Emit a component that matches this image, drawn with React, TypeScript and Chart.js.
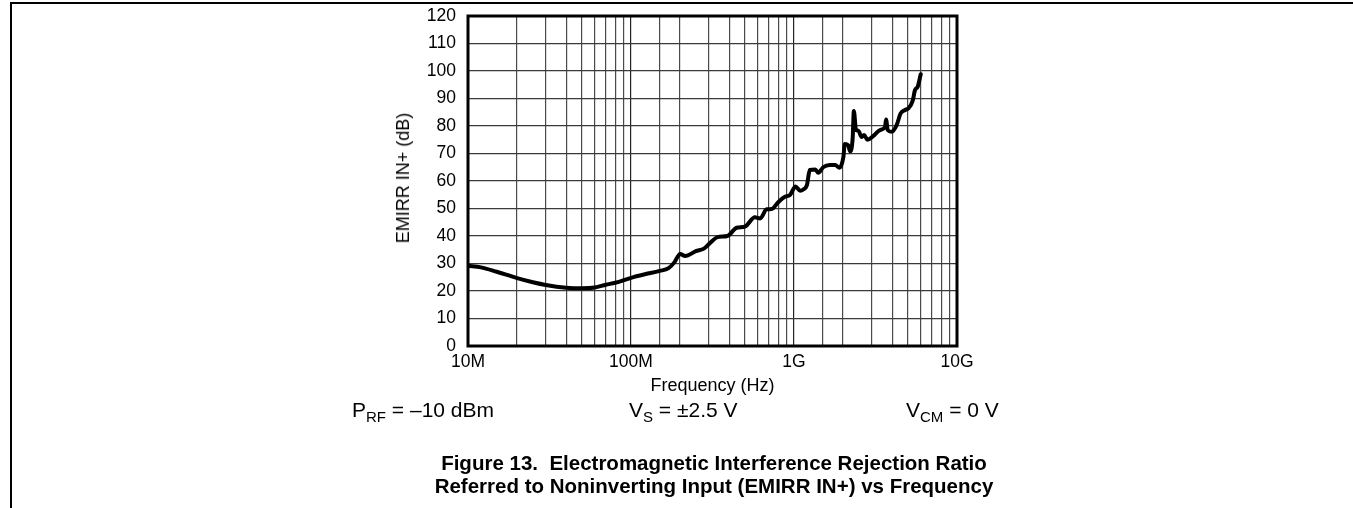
import React, { useEffect, useRef } from "react";
import { Chart, registerables } from "chart.js";

Chart.register(...registerables);

// Frequency (Hz) and EMIRR IN+ (dB)
const FREQ_HZ = [
  1.0e7, 1.2e7, 1.5e7, 2.0e7, 2.5e7, 3.0e7, 4.0e7, 5.0e7, 6.0e7, 7.0e7, 8.0e7,
  1.0e8, 1.2e8, 1.5e8, 1.7e8, 1.85e8, 2.0e8, 2.15e8, 2.5e8, 2.8e8, 3.05e8,
  3.4e8, 3.9e8, 4.45e8, 5.0e8, 5.75e8, 6.2e8, 6.8e8, 7.3e8, 8.0e8, 8.8e8,
  9.45e8, 1.02e9, 1.09e9, 1.14e9, 1.2e9, 1.25e9, 1.35e9, 1.41e9, 1.51e9,
  1.66e9, 1.79e9, 1.9e9, 2.01e9, 2.05e9, 2.15e9, 2.21e9, 2.29e9, 2.33e9,
  2.4e9, 2.48e9, 2.6e9, 2.69e9, 2.82e9, 3.07e9, 3.37e9, 3.62e9, 3.67e9,
  3.76e9, 3.97e9, 4.27e9, 4.51e9, 4.8e9, 5.03e9, 5.35e9, 5.52e9, 5.74e9,
  5.99e9,
];
const EMIRR_DB = [
  29.2, 28.6, 27.0, 24.7, 23.2, 22.2, 21.2, 21.0, 21.3, 22.3, 23.0,
  24.8, 26.0, 27.3, 28.3, 30.5, 33.5, 32.7, 34.5, 35.4, 37.4,
  39.6, 40.0, 43.0, 43.4, 46.8, 46.4, 49.7, 49.8, 52.3, 54.3,
  54.9, 58.0, 56.5, 56.9, 58.5, 64.0, 64.2, 63.0, 65.0,
  65.8, 65.8, 64.8, 68.8, 73.5, 73.0, 70.8, 75.5, 85.5,
  78.5, 78.3, 76.0, 76.7, 75.0, 76.4, 78.5, 79.7, 82.4,
  78.5, 77.9, 80.4, 84.6, 85.8, 86.4, 89.2, 93.0, 94.3,
  98.8,
];

const X_TICK_VALUES = [1e7, 1e8, 1e9, 1e10];
const X_TICK_LABELS = ["10M", "100M", "1G", "10G"];
const Y_MIN = 0;
const Y_MAX = 120;
const Y_STEP = 10;

const FONT = '"Liberation Sans", Arial, Helvetica, sans-serif';

const framePlugin = {
  id: "frame",
  afterDraw(chart: any) {
    const { ctx, chartArea } = chart;
    ctx.save();
    ctx.strokeStyle = "#000";
    ctx.lineWidth = 3;
    ctx.strokeRect(
      chartArea.left,
      chartArea.top,
      chartArea.right - chartArea.left,
      chartArea.bottom - chartArea.top
    );
    ctx.restore();
  },
};

function isDecade(v: number) {
  const l = Math.log10(v);
  return Math.abs(l - Math.round(l)) < 1e-6;
}

export default function App() {
  const canvasRef = useRef<HTMLCanvasElement | null>(null);

  useEffect(() => {
    const canvas = canvasRef.current;
    if (!canvas) return;
    const points = FREQ_HZ.map((f, i) => ({ x: f, y: EMIRR_DB[i] }));
    const chart = new Chart(canvas, {
      type: "line",
      data: {
        datasets: [
          {
            data: points,
            borderColor: "#000",
            borderWidth: 4,
            pointRadius: 0,
            fill: false,
            cubicInterpolationMode: "monotone",
            borderJoinStyle: "round",
            borderCapStyle: "round",
          },
        ],
      },
      options: {
        animation: false,
        responsive: false,
        devicePixelRatio: 1,
        layout: { padding: { left: 0, top: 16, right: 396, bottom: 0 } },
        plugins: {
          legend: { display: false },
          tooltip: { enabled: false },
        },
        scales: {
          x: {
            type: "logarithmic",
            min: 1e7,
            max: 1e10,
            afterFit(scale: any) {
              scale.height = 162;
              scale.paddingLeft = 0;
              scale.paddingRight = 0;
            },
            grid: {
              drawTicks: false,
              color: (c: any) =>
                c.tick && isDecade(c.tick.value) ? "#222" : "#4a4a4a",
              lineWidth: 1.2,
            },
            border: { display: false },
            ticks: {
              autoSkip: false,
              maxRotation: 0,
              padding: 6,
              color: "#000",
              font: { family: FONT, size: 17.5 },
              callback: (v: any) => {
                const idx = X_TICK_VALUES.findIndex(
                  (t) => Math.abs(t - Number(v)) / t < 1e-6
                );
                return idx >= 0 ? X_TICK_LABELS[idx] : "";
              },
            },
          },
          y: {
            min: Y_MIN,
            max: Y_MAX,
            afterFit(scale: any) {
              scale.width = 468;
              scale.paddingTop = 0;
              scale.paddingBottom = 0;
            },
            grid: { drawTicks: false, color: "#3a3a3a", lineWidth: 1.2 },
            border: { display: false },
            ticks: {
              stepSize: Y_STEP,
              padding: 12,
              color: "#000",
              font: { family: FONT, size: 17.5 },
            },
          },
        },
      },
      plugins: [framePlugin],
    } as any);
    return () => chart.destroy();
  }, []);

  const textBase: React.CSSProperties = {
    position: "absolute",
    fontFamily: FONT,
    color: "#000",
    whiteSpace: "nowrap",
  };

  return (
    <div
      style={{
        position: "absolute",
        left: 0,
        top: 0,
        width: 1353,
        height: 508,
        background: "#fff",
        overflow: "hidden",
      }}
    >
      <canvas
        ref={canvasRef}
        width={1353}
        height={508}
        style={{ position: "absolute", left: 0, top: 0, display: "block" }}
      />
      {/* page frame */}
      <div style={{ position: "absolute", left: 10, top: 2, right: 0, height: 2, background: "#000" }} />
      <div style={{ position: "absolute", left: 10, top: 2, bottom: 0, width: 2, background: "#000" }} />

      {/* y axis title */}
      <div
        style={{
          ...textBase,
          left: 403,
          top: 178,
          fontSize: 18,
          lineHeight: "20px",
          transform: "translate(-50%, -50%) rotate(-90deg)",
        }}
      >
        EMIRR IN+ (dB)
      </div>

      {/* x axis title */}
      <div
        style={{
          ...textBase,
          left: 712.5,
          top: 385,
          fontSize: 18,
          lineHeight: "20px",
          transform: "translate(-50%, -50%)",
        }}
      >
        Frequency (Hz)
      </div>

      {/* conditions */}
      <div style={{ ...textBase, left: 352, top: 398, fontSize: 21, lineHeight: "24px" }}>
        P<sub style={{ fontSize: 15 }}>RF</sub> = –10 dBm
      </div>
      <div style={{ ...textBase, left: 629, top: 398, fontSize: 21, lineHeight: "24px" }}>
        V<sub style={{ fontSize: 15 }}>S</sub> = ±2.5 V
      </div>
      <div style={{ ...textBase, left: 906, top: 398, fontSize: 21, lineHeight: "24px" }}>
        V<sub style={{ fontSize: 15 }}>CM</sub> = 0 V
      </div>

      {/* caption */}
      <div
        style={{
          ...textBase,
          left: 714,
          top: 451,
          fontSize: 20.5,
          lineHeight: "23px",
          fontWeight: "bold",
          textAlign: "center",
          transform: "translateX(-50%)",
        }}
      >
        Figure 13.&nbsp; Electromagnetic Interference Rejection Ratio
        <br />
        Referred to Noninverting Input (EMIRR IN+) vs Frequency
      </div>
    </div>
  );
}
